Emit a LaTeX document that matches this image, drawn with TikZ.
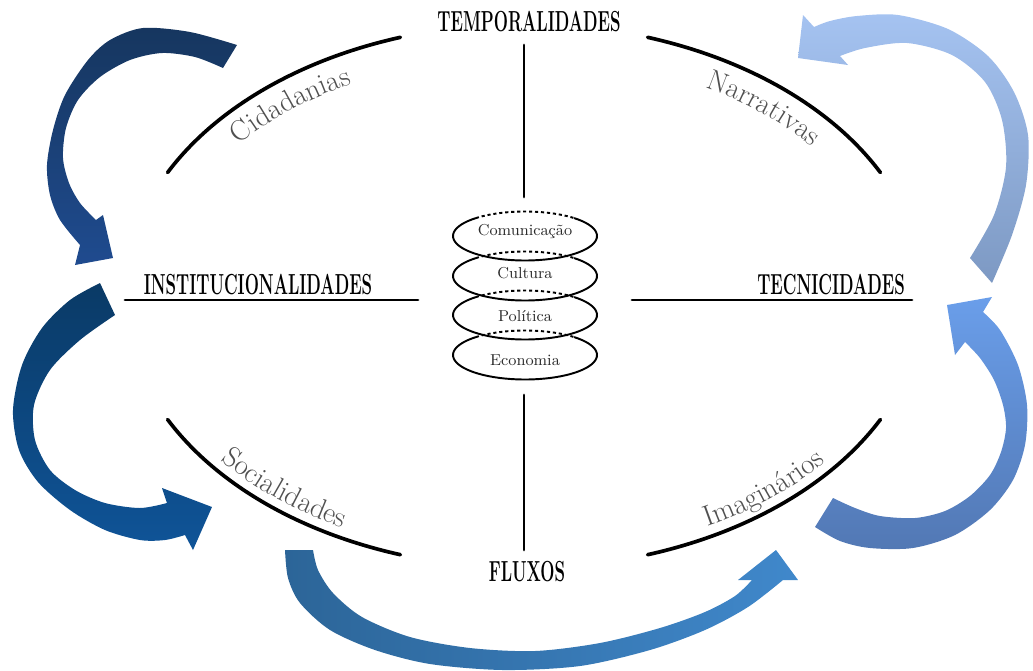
\documentclass[tikz,border=0pt]{standalone}
\usepackage{fontspec}
\usepackage{graphicx}
\usetikzlibrary{positioning}
\usetikzlibrary{decorations.text}

\definecolor{arrowAtop}{HTML}{16365F}
\definecolor{arrowAbot}{HTML}{1F4B8F}
\definecolor{arrowBtop}{HTML}{0A3A66}
\definecolor{arrowBbot}{HTML}{0F5498}
\definecolor{arrowCleft}{HTML}{2C6598}
\definecolor{arrowCright}{HTML}{4088CB}
\definecolor{arrowDtop}{HTML}{6A9EEA}
\definecolor{arrowDbot}{HTML}{5278B4}
\definecolor{arrowEtop}{HTML}{A5C3F1}
\definecolor{arrowEbot}{HTML}{7D99C3}
\definecolor{labelgray}{HTML}{505050}
\definecolor{stackgray}{HTML}{2A2A2A}

\newcommand{\axislabel}[1]{\scalebox{0.58}[1]{\fontsize{16.5}{19}\selectfont\bfseries #1}}
\newcommand{\medfont}{\fontsize{16.5}{20}\selectfont}

\begin{document}
\begin{tikzpicture}[x=0.02cm, y=-0.02cm]
            \tikzstyle{axis_line}=[line width=1.6pt, line cap=round];
            \tikzstyle{ring_line}=[line width=2.1pt, line cap=round];
            \tikzstyle{disc_solid}=[line width=1.1pt];
            \tikzstyle{disc_dotted}=[line width=1.1pt, dash pattern=on 1.8pt off 1.6pt];
            \tikzstyle{axis_label}=[inner sep=0pt];
            \tikzstyle{disc_label}=[inner sep=0pt, text=stackgray, font=\fontsize{9}{10}\selectfont];
            \tikzstyle{mediation}=[decorate, decoration={text along path, text align=center, text color=labelgray}];

            \useasboundingbox (0,0) rectangle (1033,670);

            % Arrows
            \shade[top color=arrowAtop, bottom color=arrowAbot]
                plot[smooth] coordinates {(237,45) (190,32) (143,28) (110,40) (88,60) (65,95) (53,130) (47,165) (50,195) (60,220) (80,245)}
                -- (75,265) -- (113,258) -- (103,215)
                -- plot[smooth] coordinates {(96,220) (80,203) (69,183) (63,158) (66,128) (78,100) (100,77) (130,60) (162,53) (195,57) (223,68)}
                -- cycle;
            \shade[top color=arrowBtop, bottom color=arrowBbot]
                plot[smooth] coordinates {(100,283) (70,300) (42,328) (22,365) (13,410) (19,450) (38,482) (70,510) (105,530) (140,540) (165,540) (185,535)}
                -- (193,550) -- (212,507) -- (162,488)
                -- plot[smooth] coordinates {(167,503) (140,508) (105,503) (75,490) (50,470) (35,440) (34,405) (50,370) (80,340) (115,315)}
                -- cycle;
            \shade[left color=arrowCleft, right color=arrowCright]
                plot[smooth] coordinates {(285,550) (288,578) (300,603) (330,630) (375,650) (430,664) (503,670) (580,666) (650,650) (705,630) (748,607) (783,580)}
                -- (798,580) -- (776,550) -- (738,580)
                -- plot[smooth] coordinates {(752,580) (735,596) (705,612) (660,628) (600,643) (535,651) (470,648) (410,637) (362,617) (333,593) (318,570) (313,550)}
                -- cycle;
            \shade[top color=arrowDtop, bottom color=arrowDbot]
                plot[smooth] coordinates {(815,527) (840,541) (870,548) (913,548) (955,535) (990,510) (1013,480) (1025,445) (1027,405) (1018,365) (1000,330) (983,312)}
                -- (992,297) -- (947,305) -- (955,355)
                -- plot[smooth] coordinates {(965,342) (980,358) (994,380) (1003,405) (1006,428) (1001,452) (990,475) (970,496) (945,511) (915,518) (880,516) (855,508) (833,498)}
                -- cycle;
            \shade[top color=arrowEtop, bottom color=arrowEbot]
                plot[smooth] coordinates {(992,283) (1012,235) (1026,185) (1028,135) (1014,92) (988,56) (948,29) (898,15) (857,16) (830,21) (814,27)}
                -- (803,15) -- (798,58) -- (848,65)
                -- plot[smooth] coordinates {(840,56) (865,48) (907,43) (952,55) (985,82) (1002,120) (1006,167) (994,215) (970,258)}
                -- cycle;

            % Outer ring
            \draw[ring_line] plot[domain=207:252, samples=50, variable=\t] ({524+400*cos(\t)}, {296+272*sin(\t)});
            \draw[ring_line] plot[domain=288:333, samples=50, variable=\t] ({524+400*cos(\t)}, {296+272*sin(\t)});
            \draw[ring_line] plot[domain=108:153, samples=50, variable=\t] ({524+400*cos(\t)}, {296+272*sin(\t)});
            \draw[ring_line] plot[domain=27:72, samples=50, variable=\t] ({524+400*cos(\t)}, {296+272*sin(\t)});

            % Mediations
            \path[mediation, decoration={text={|\medfont|Cidadanias}}]
                plot[domain=207:252, samples=16, variable=\t] ({524+368*cos(\t)}, {296+240*sin(\t)});
            \path[mediation, decoration={text={|\medfont|Narrativas}}]
                plot[domain=291:332, samples=16, variable=\t] ({524+368*cos(\t)}, {296+240*sin(\t)});
            \path[mediation, decoration={text={|\medfont|Socialidades}}]
                plot[domain=153:108, samples=16, variable=\t] ({524+390*cos(\t)}, {296+262*sin(\t)});
            \path[mediation, decoration={text={|\medfont|Imaginários}}]
                plot[domain=72:27, samples=16, variable=\t] ({524+390*cos(\t)}, {296+262*sin(\t)});

            % Axis labels
            \node(temp_lbl) [axis_label] at (529,22) {\axislabel{TEMPORALIDADES}};
            \node(inst_lbl) [axis_label] at (258,285) {\axislabel{INSTITUCIONALIDADES}};
            \node(tec_lbl) [axis_label] at (831,285) {\axislabel{TECNICIDADES}};
            \node(flux_lbl) [axis_label] at (527,572) {\axislabel{FLUXOS}};

            % Axis lines
            \coordinate(v_top_a) at (524,45);
            \coordinate(v_top_b) at (524,197);
            \coordinate(v_bot_a) at (524,395);
            \coordinate(v_bot_b) at (524,550);
            \coordinate(h_left_a) at (125,300);
            \coordinate(h_left_b) at (418,300);
            \coordinate(h_right_a) at (632,300);
            \coordinate(h_right_b) at (912,300);
            \draw[axis_line] (v_top_a) -- (v_top_b);
            \draw[axis_line] (v_bot_a) -- (v_bot_b);
            \draw[axis_line] (h_left_a) -- (h_left_b);
            \draw[axis_line] (h_right_a) -- (h_right_b);

            % Stack of discs
            \foreach \cy in {236,276,315,355} {
                \draw[disc_solid] plot[domain=313:587, samples=60, variable=\t] ({525+72*cos(\t)}, {\cy+24.5*sin(\t)});
                \draw[disc_dotted] plot[domain=227:313, samples=30, variable=\t] ({525+72*cos(\t)}, {\cy+24.5*sin(\t)});
            }
            \node(comunicacao) [disc_label] at (525,231) {Comunicação};
            \node(cultura) [disc_label] at (525,273) {Cultura};
            \node(politica) [disc_label] at (525,316) {Política};
            \node(economia) [disc_label] at (525,360) {Economia};
\end{tikzpicture}
\end{document}
